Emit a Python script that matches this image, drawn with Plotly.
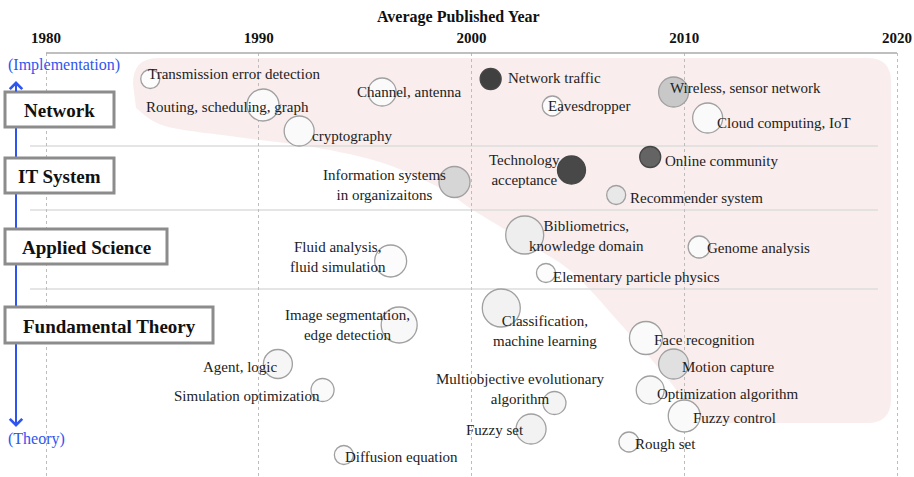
import plotly.graph_objects as go

# ---------------- data ----------------
topics = [
    "Transmission error detection", "Routing, scheduling, graph", "cryptography",
    "Channel, antenna", "Network traffic", "Eavesdropper", "Wireless, sensor network",
    "Cloud computing, IoT",
    "Technology<br>acceptance", "Online community", "Recommender system",
    "Information systems<br>in organizaitons",
    "Bibliometrics,<br>knowledge domain", "Genome analysis", "Elementary particle physics",
    "Fluid analysis,<br>fluid simulation",
    "Image segmentation,<br>edge detection", "Agent, logic", "Simulation optimization",
    "Diffusion equation", "Classification,<br>machine learning", "Face recognition",
    "Motion capture", "Optimization algorithm", "Fuzzy control", "Rough set",
    "Multiobjective evolutionary<br>algorithm", "Fuzzy set",
]
avg_year = [
    1984.9, 1990.2, 1991.9, 1995.8, 2000.9, 2003.8, 2009.5, 2011.1,
    2004.7, 2008.4, 2006.8, 1999.2,
    2002.5, 2010.7, 2003.5, 1996.2,
    1996.6, 1990.9, 1993.0, 1994.0, 2001.4, 2008.2,
    2009.5, 2008.4, 2010.0, 2007.4, 2003.9, 2002.8,
]
# vertical position on the implementation (top) -> theory (bottom) scale
vertical_pos = [
    79, 105, 131, 92, 79, 106, 92, 118,
    170, 157, 195, 182,
    235, 247, 273, 261,
    325, 364, 390, 455, 308, 338,
    364, 390, 416, 442, 403, 429,
]
bubble_size = [
    19, 32, 30, 28, 21, 20, 30, 30,
    28, 21, 19, 31,
    38, 22, 19, 32,
    36, 29, 23, 19, 38, 33,
    30, 28, 32, 20, 23, 30,
]
gray_level = [
    252, 250, 250, 250, 64, 252, 200, 250,
    72, 100, 232, 214,
    238, 250, 252, 252,
    248, 246, 250, 250, 242, 250,
    224, 248, 250, 250, 244, 242,
]
categories = ["Network", "IT System", "Applied Science", "Fundamental Theory"]
tick_years = [1980, 1990, 2000, 2010, 2020]

# ---------------- layout helpers ----------------
W, H = 914, 477
TOP = 53
PLOT_H = H - TOP
PPY = (897 - 46) / 40.0
xr0 = 1980 - 46 / PPY
xr1 = 2020 + (W - 897) / PPY

# label placement: (xanchor, xshift, yshift)
label_place = [
    ("left", -4, 5), ("center", -36, -2), ("left", 11, -5), ("left", -27, 0),
    ("left", 15, 1), ("left", -6, 0), ("left", -6, 4), ("left", 7, -5),
    ("center", -47, 0), ("left", 13, -4), ("left", 12, -3), ("center", -70, -3),
    ("center", 62, -1), ("left", 6, -1), ("left", 5, -4), ("center", -53, 4),
    ("center", -52, 0), ("right", 1, -3), ("right", -1, -6), ("left", -1, -2),
    ("center", 44, -23), ("left", 6, -2), ("left", 6, -3), ("left", 5, -4),
    ("left", 7, -2), ("left", 4, -2), ("center", -34, 14), ("right", -5, -1),
]

SERIF = "Liberation Serif"
BLUE = "#2f55f0"
fills = [f"rgb({g},{g},{g})" for g in gray_level]
lines = ["rgb(70,70,70)" if g < 150 else "rgb(160,160,160)" for g in gray_level]

fig = go.Figure()
fig.add_trace(go.Scatter(
    x=avg_year, y=vertical_pos, mode="markers",
    marker=dict(size=bubble_size, sizemode="diameter", color=fills, opacity=1,
                line=dict(color=lines, width=1.3)),
    hovertext=[t.replace("<br>", " ") for t in topics], hoverinfo="text",
    showlegend=False, cliponaxis=False,
))

annotations = []
for t, xv, yv, (xa, xs, ys) in zip(topics, avg_year, vertical_pos, label_place):
    annotations.append(dict(
        x=xv, y=yv, xref="x", yref="y", text=t, showarrow=False,
        xanchor=xa, yanchor="middle", xshift=xs, yshift=ys, align="center",
        font=dict(family=SERIF, size=15, color="#222")))

# axis title (above the plot area)
annotations.append(dict(x=458 / W, y=(H - 17) / PLOT_H, xref="paper", yref="paper",
                        xanchor="center", yanchor="middle",
                        text="Average Published Year", showarrow=False,
                        font=dict(family=SERIF, size=16, color="#111", weight="bold")))

def px(v):
    return v / W

shapes = []
# pink shaded region (smooth boundary)
pts = [(702, 423), (662, 372), (617, 320), (572, 272), (527, 243), (473, 210),
       (440, 188), (383, 163), (313, 147), (237, 137), (165, 126), (136, 108)]
def cr_path(points):
    s = ""
    n = len(points)
    for i in range(n - 1):
        p0 = points[i - 1] if i > 0 else points[i]
        p1 = points[i]
        p2 = points[i + 1]
        p3 = points[i + 2] if i + 2 < n else points[i + 1]
        c1 = (p1[0] + (p2[0] - p0[0]) / 6, p1[1] + (p2[1] - p0[1]) / 6)
        c2 = (p2[0] - (p3[0] - p1[0]) / 6, p2[1] - (p3[1] - p1[1]) / 6)
        s += f" C {px(c1[0])},{c1[1]} {px(c2[0])},{c2[1]} {px(p2[0])},{p2[1]}"
    return s
path = (f"M {px(158)},58 L {px(868)},58 Q {px(891)},58 {px(891)},82 "
        f"L {px(891)},399 Q {px(891)},423 {px(867)},423 L {px(702)},423"
        + cr_path(pts) +
        f" L {px(133)},84 Q {px(133)},58 {px(158)},58 Z")
shapes.append(dict(type="path", path=path, xref="paper", yref="y",
                   fillcolor="rgba(240,212,212,0.42)", line=dict(width=0), layer="below"))

# separators
for yv in [146, 210, 289]:
    shapes.append(dict(type="line", xref="paper", yref="y", x0=px(30), x1=px(878),
                       y0=yv, y1=yv, line=dict(color="#dcdcdc", width=1.5), layer="below"))

# top axis line
shapes.append(dict(type="line", xref="x", yref="paper", x0=1980, x1=2020, y0=1, y1=1,
                   line=dict(color="#aaaaaa", width=1.5), layer="above"))

# blue implementation-theory arrow line
shapes.append(dict(type="line", xref="paper", yref="y", x0=px(16), x1=px(16),
                   y0=84, y1=424, line=dict(color=BLUE, width=2), layer="above"))

# category boxes
boxes = [(5, 92, 114, 127), (5, 158, 114, 193), (5, 229, 167, 264), (5, 307, 213, 343)]
for cat, (bx0, by0, bx1, by1) in zip(categories, boxes):
    shapes.append(dict(type="rect", xref="paper", yref="y", x0=px(bx0), x1=px(bx1),
                       y0=by0, y1=by1, fillcolor="white",
                       line=dict(color="#8c8c8c", width=3), layer="above"))
    annotations.append(dict(x=px((bx0 + bx1) / 2), y=(by0 + by1) / 2 + 1, xref="paper", yref="y",
                            text=cat, showarrow=False, xanchor="center", yanchor="middle",
                            font=dict(family=SERIF, size=19, color="#111", weight="bold")))

# arrow heads and end labels
annotations.append(dict(x=px(16), y=81, xref="paper", yref="y", ax=0, ay=12,
                        text="", showarrow=True, arrowhead=4, arrowsize=1.2,
                        arrowwidth=2, arrowcolor=BLUE))
annotations.append(dict(x=px(16), y=427, xref="paper", yref="y", ax=0, ay=-12,
                        text="", showarrow=True, arrowhead=4, arrowsize=1.2,
                        arrowwidth=2, arrowcolor=BLUE))
annotations.append(dict(x=px(6), y=65, xref="paper", yref="y", xanchor="left",
                        yanchor="middle", text="(Implementation)", showarrow=False,
                        font=dict(family=SERIF, size=16, color=BLUE)))
annotations.append(dict(x=px(6), y=439, xref="paper", yref="y", xanchor="left",
                        yanchor="middle", text="(Theory)", showarrow=False,
                        font=dict(family=SERIF, size=16, color=BLUE)))

fig.update_layout(
    width=W, height=H, margin=dict(l=0, r=0, t=TOP, b=0),
    paper_bgcolor="white", plot_bgcolor="white",
    shapes=shapes, annotations=annotations,
    xaxis=dict(range=[xr0, xr1], side="top", tickvals=tick_years,
               ticktext=[str(v) for v in tick_years],
               showgrid=True, gridcolor="#bdbdbd", griddash="3px,3px", gridwidth=1,
               zeroline=False, showline=False, ticks="", ticklabelstandoff=6,
               tickfont=dict(family=SERIF, size=15, color="#111", weight="bold"),
               fixedrange=True),
    yaxis=dict(range=[H, TOP], showgrid=False, zeroline=False, showticklabels=False,
               showline=False, fixedrange=True),
)

fig.write_html("out.html", config={"displayModeBar": False},
               post_script="document.body.style.margin='0';document.body.style.padding='0';"
                           "document.documentElement.style.overflow='hidden';")
